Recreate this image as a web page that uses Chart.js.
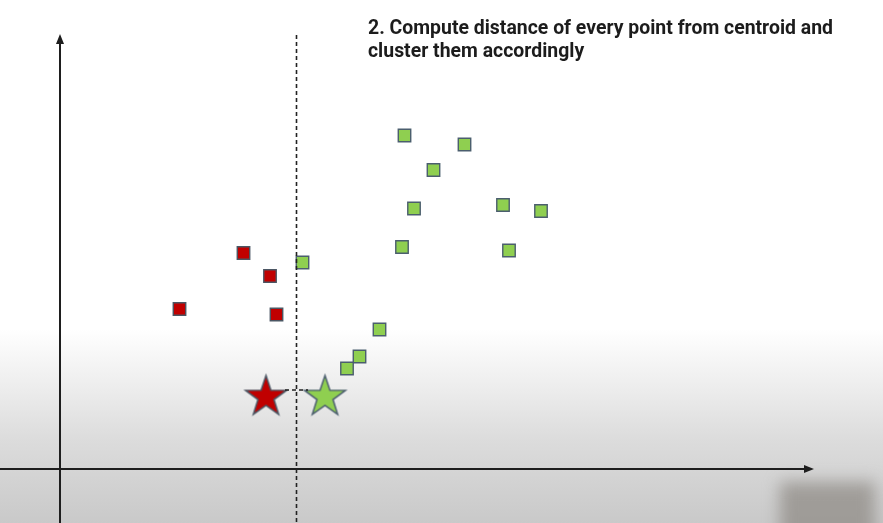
<!DOCTYPE html>
<html>
<head>
<meta charset="utf-8">
<script src="https://cdn.jsdelivr.net/npm/chart.js@4.4.1/dist/chart.umd.min.js"></script>
<style>
  html, body { margin: 0; padding: 0; }
  body {
    width: 883px; height: 523px; overflow: hidden;
    background: linear-gradient(to bottom, #ffffff 0%, #ffffff 63%, #ededed 74%, #dcdcdc 84%, #c9c9c9 100%);
  }
  #wrap { position: relative; width: 883px; height: 523px; }
</style>
</head>
<body>
<div id="wrap"><canvas id="c" width="883" height="523"></canvas></div>
<script>
// ---- data (units: origin at the axes intersection) ----
const titleLines = ["2. Compute distance of every point from centroid and", "cluster them accordingly"];

const redX = [18.35, 21.0, 11.95, 21.65];
const redY = [21.6, 19.3, 16.0, 15.45];

const greenX = [24.25, 34.45, 40.45, 37.35, 35.4, 44.3, 48.1, 34.2, 44.9, 31.95, 29.95, 28.7];
const greenY = [20.65, 33.35, 32.45, 29.9, 26.05, 26.4, 25.8, 22.2, 21.85, 13.95, 11.25, 10.05];

const centroidX = [20.6, 26.5];
const centroidY = [7.2, 7.2];

const splitX = [23.65, 23.65];
const splitY = [43.4, -5.4];

const linkX = [22.5, 24.8];
const linkY = [7.9, 7.9];

const axisXEnd = 75.3;
const axisYEnd = 43.4;

const xRange = [-6, 82.3];
const yRange = [-5.4, 46.9];

// ---- helpers ----
function pts(xs, ys) { return xs.map((x, i) => ({ x: x, y: ys[i] })); }

function makeStar(fill, stroke) {
  const R = 21.5, r = 8.4, pad = 3;
  const size = 2 * (R + pad);
  const cv = document.createElement('canvas');
  cv.width = size; cv.height = size;
  const g = cv.getContext('2d');
  const cx = size / 2, cy = size / 2;
  g.beginPath();
  for (let i = 0; i < 10; i++) {
    const rad = i % 2 === 0 ? R : r;
    const a = -Math.PI / 2 + i * Math.PI / 5;
    const px = cx + rad * Math.cos(a), py = cy + rad * Math.sin(a);
    if (i === 0) g.moveTo(px, py); else g.lineTo(px, py);
  }
  g.closePath();
  g.fillStyle = fill; g.fill();
  g.lineWidth = 1.5; g.strokeStyle = stroke; g.stroke();
  return cv;
}

const redStar = makeStar('#c00000', '#4b5663');
const greenStar = makeStar('#8fcf50', '#4b5e6e');

const decor = {
  id: 'decor',
  beforeDatasetsDraw(chart) {
    const ctx = chart.ctx;
    const xs = chart.scales.x, ys = chart.scales.y;
    const ox = xs.getPixelForValue(0), oy = ys.getPixelForValue(0);
    const xEnd = xs.getPixelForValue(axisXEnd), yEnd = ys.getPixelForValue(axisYEnd);
    ctx.save();
    // blurred patch bottom right
    ctx.filter = 'blur(8px)';
    ctx.fillStyle = 'rgba(140,136,130,0.7)';
    ctx.fillRect(780, 482, 95, 60);
    ctx.filter = 'none';
    ctx.strokeStyle = '#1e1e1e';
    ctx.fillStyle = '#1e1e1e';
    ctx.lineWidth = 2;
    // x axis
    ctx.beginPath();
    ctx.moveTo(xs.getPixelForValue(xRange[0]), oy);
    ctx.lineTo(xEnd - 6, oy);
    ctx.stroke();
    ctx.beginPath();
    ctx.moveTo(xEnd + 1, oy);
    ctx.lineTo(xEnd - 9, oy - 4);
    ctx.lineTo(xEnd - 9, oy + 4);
    ctx.closePath(); ctx.fill();
    // y axis
    ctx.beginPath();
    ctx.moveTo(ox, ys.getPixelForValue(yRange[0]));
    ctx.lineTo(ox, yEnd + 6);
    ctx.stroke();
    ctx.beginPath();
    ctx.moveTo(ox, yEnd - 1);
    ctx.lineTo(ox - 4, yEnd + 9);
    ctx.lineTo(ox + 4, yEnd + 9);
    ctx.closePath(); ctx.fill();
    ctx.restore();
  },
  afterDraw(chart) {
    const ctx = chart.ctx;
    ctx.save();
    ctx.fillStyle = '#1c1c1c';
    ctx.font = 'bold 20px Roboto';
    ctx.textBaseline = 'alphabetic';
    const w1 = ctx.measureText(titleLines[0]).width;
    const sx = 465 / w1;
    ctx.translate(368, 0);
    ctx.scale(sx, 1);
    ctx.fillText(titleLines[0], 0, 34);
    ctx.fillText(titleLines[1], 0, 57);
    ctx.restore();
  }
};

new Chart(document.getElementById('c'), {
  type: 'scatter',
  data: {
    datasets: [
      { label: 'split', type: 'line', data: pts(splitX, splitY), borderColor: '#222222', borderWidth: 1.6,
        borderDash: [4, 3], pointRadius: 0, fill: false, showLine: true },
      { label: 'link', type: 'line', data: pts(linkX, linkY), borderColor: '#222222', borderWidth: 1.6,
        borderDash: [4, 3], pointRadius: 0, fill: false, showLine: true },
      { label: 'red', data: pts(redX, redY), pointStyle: 'rect', pointRadius: 8.8,
        backgroundColor: '#c00000', borderColor: '#4b5663', borderWidth: 1.4 },
      { label: 'green', data: pts(greenX, greenY), pointStyle: 'rect', pointRadius: 8.8,
        backgroundColor: '#8fcf50', borderColor: '#4b5e6e', borderWidth: 1.4 },
      { label: 'centroids', data: pts(centroidX, centroidY), pointStyle: [redStar, greenStar], pointRadius: 20 }
    ]
  },
  options: {
    responsive: false,
    animation: false,
    layout: { padding: 0, autoPadding: false },
    plugins: { legend: { display: false }, tooltip: { enabled: false }, title: { display: false } },
    scales: {
      x: { type: 'linear', display: false, min: xRange[0], max: xRange[1] },
      y: { type: 'linear', display: false, min: yRange[0], max: yRange[1] }
    }
  },
  plugins: [decor]
});
</script>
</body>
</html>
